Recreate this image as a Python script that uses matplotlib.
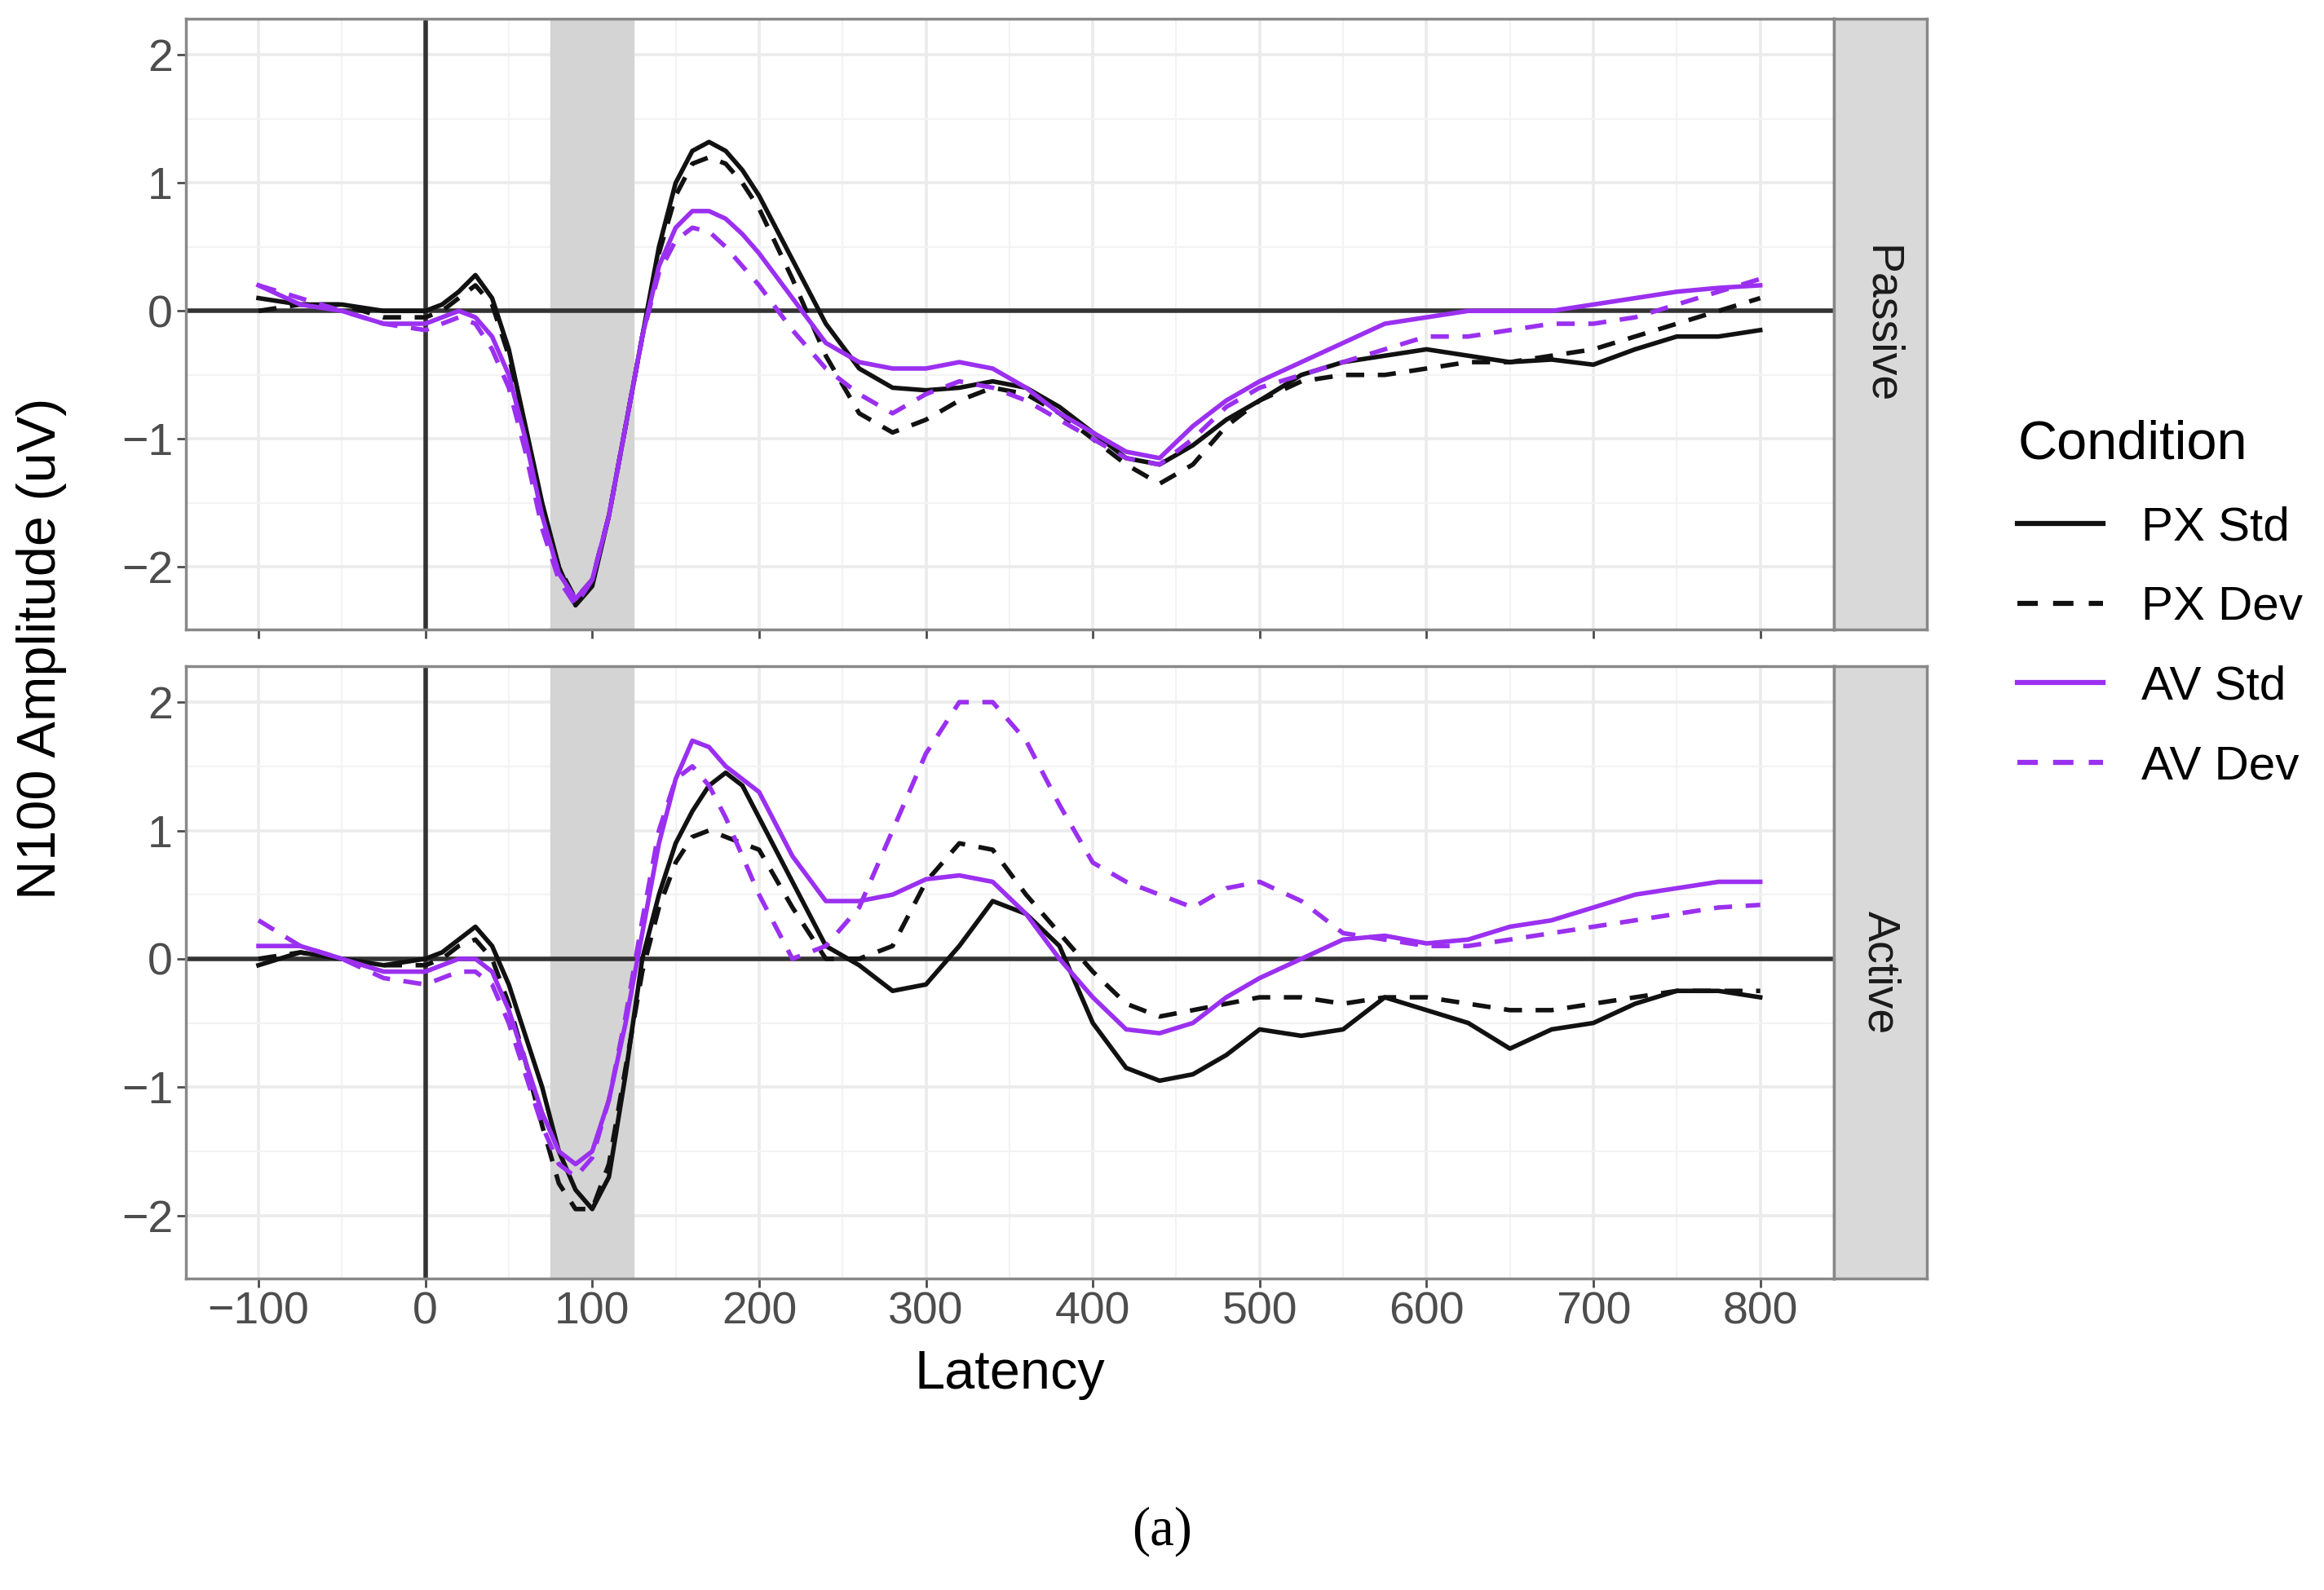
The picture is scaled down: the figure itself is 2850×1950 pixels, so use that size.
import matplotlib.pyplot as plt
import numpy as np
from matplotlib.lines import Line2D

plt.rcParams['font.family'] = ['Liberation Sans', 'DejaVu Sans']

# latency grid (ms)
lat = [-100, -75, -50, -25, 0, 10, 20, 30, 40, 50, 60, 70, 80, 90, 100, 110, 120, 130, 140, 150,
       160, 170, 180, 190, 200, 220, 240, 260, 280, 300, 320, 340, 360, 380, 400, 420, 440, 460,
       480, 500, 525, 550, 575, 600, 625, 650, 675, 700, 725, 750, 775, 800]

# passive condition
pas_px_std = [0.1, 0.05, 0.05, 0.0, 0.0, 0.05, 0.15, 0.28, 0.1, -0.3, -0.9, -1.5, -2.0, -2.3, -2.15, -1.6, -0.9, -0.2, 0.5, 1.0,
              1.25, 1.32, 1.25, 1.1, 0.9, 0.4, -0.1, -0.45, -0.6, -0.62, -0.6, -0.55, -0.6, -0.75, -0.95, -1.15, -1.2, -1.05,
              -0.85, -0.7, -0.5, -0.4, -0.35, -0.3, -0.35, -0.4, -0.38, -0.42, -0.3, -0.2, -0.2, -0.15]
pas_px_dev = [0.0, 0.05, 0.05, -0.05, -0.05, 0.0, 0.1, 0.2, 0.05, -0.35, -0.95, -1.55, -2.0, -2.25, -2.1, -1.6, -0.9, -0.2, 0.45, 0.9,
              1.15, 1.2, 1.15, 1.0, 0.8, 0.25, -0.35, -0.8, -0.95, -0.85, -0.7, -0.6, -0.65, -0.8, -1.0, -1.2, -1.35, -1.2,
              -0.9, -0.7, -0.55, -0.5, -0.5, -0.45, -0.4, -0.4, -0.35, -0.3, -0.2, -0.1, 0.0, 0.1]
pas_av_std = [0.2, 0.05, 0.0, -0.1, -0.1, -0.05, 0.0, -0.05, -0.2, -0.5, -1.0, -1.6, -2.05, -2.25, -2.1, -1.6, -0.9, -0.2, 0.35, 0.65,
              0.78, 0.78, 0.72, 0.6, 0.45, 0.1, -0.25, -0.4, -0.45, -0.45, -0.4, -0.45, -0.6, -0.8, -0.95, -1.1, -1.15, -0.9,
              -0.7, -0.55, -0.4, -0.25, -0.1, -0.05, 0.0, 0.0, 0.0, 0.05, 0.1, 0.15, 0.18, 0.2]
pas_av_dev = [0.2, 0.1, 0.0, -0.1, -0.15, -0.1, -0.05, -0.1, -0.3, -0.6, -1.1, -1.7, -2.1, -2.3, -2.1, -1.6, -0.9, -0.2, 0.3, 0.55,
              0.65, 0.62, 0.5, 0.35, 0.2, -0.15, -0.45, -0.65, -0.8, -0.65, -0.55, -0.6, -0.7, -0.85, -1.0, -1.15, -1.2, -1.0,
              -0.75, -0.6, -0.5, -0.4, -0.3, -0.2, -0.2, -0.15, -0.1, -0.1, -0.05, 0.05, 0.15, 0.25]

# active condition
act_px_std = [-0.05, 0.05, 0.0, -0.05, 0.0, 0.05, 0.15, 0.25, 0.1, -0.2, -0.6, -1.0, -1.5, -1.8, -1.95, -1.7, -0.9, 0.0, 0.5, 0.9,
              1.15, 1.35, 1.45, 1.35, 1.1, 0.6, 0.1, -0.05, -0.25, -0.2, 0.1, 0.45, 0.35, 0.1, -0.5, -0.85, -0.95, -0.9,
              -0.75, -0.55, -0.6, -0.55, -0.3, -0.4, -0.5, -0.7, -0.55, -0.5, -0.35, -0.25, -0.25, -0.3]
act_px_dev = [0.0, 0.05, 0.0, -0.05, -0.05, 0.0, 0.1, 0.15, 0.0, -0.35, -0.8, -1.3, -1.75, -1.95, -1.95, -1.6, -0.85, -0.1, 0.4, 0.75,
              0.95, 1.0, 0.95, 0.9, 0.85, 0.4, 0.0, 0.0, 0.1, 0.6, 0.9, 0.85, 0.5, 0.2, -0.1, -0.35, -0.45, -0.4,
              -0.35, -0.3, -0.3, -0.35, -0.3, -0.3, -0.35, -0.4, -0.4, -0.35, -0.3, -0.25, -0.25, -0.25]
act_av_std = [0.1, 0.1, 0.0, -0.1, -0.1, -0.05, 0.0, 0.0, -0.1, -0.4, -0.8, -1.2, -1.5, -1.6, -1.5, -1.1, -0.5, 0.2, 0.9, 1.4,
              1.7, 1.65, 1.5, 1.4, 1.3, 0.8, 0.45, 0.45, 0.5, 0.62, 0.65, 0.6, 0.35, 0.0, -0.3, -0.55, -0.58, -0.5,
              -0.3, -0.15, 0.0, 0.15, 0.18, 0.12, 0.15, 0.25, 0.3, 0.4, 0.5, 0.55, 0.6, 0.6]
act_av_dev = [0.3, 0.1, 0.0, -0.15, -0.2, -0.15, -0.1, -0.1, -0.2, -0.5, -0.9, -1.3, -1.6, -1.7, -1.55, -1.1, -0.45, 0.3, 1.0, 1.4,
              1.5, 1.35, 1.1, 0.8, 0.5, 0.0, 0.1, 0.4, 1.0, 1.6, 2.0, 2.0, 1.7, 1.2, 0.75, 0.6, 0.5, 0.4,
              0.55, 0.6, 0.45, 0.2, 0.15, 0.1, 0.1, 0.15, 0.2, 0.25, 0.3, 0.35, 0.4, 0.42]

panels = ['Passive', 'Active']
series = {'Passive': [pas_px_std, pas_px_dev, pas_av_std, pas_av_dev],
          'Active': [act_px_std, act_px_dev, act_av_std, act_av_dev]}
labels = ['PX Std', 'PX Dev', 'AV Std', 'AV Dev']
purple = '#9B30F0'
colors = ['#111111', '#111111', purple, purple]
styles = ['-', '--', '-', '--']

fig = plt.figure(figsize=(28.5, 19.5), dpi=100)
L, R, SR = 0.080, 0.789, 0.829
boxes = [(0.604, 0.988), (0.196, 0.581)]
axes = []
for name, (b, t) in zip(panels, boxes):
    ax = fig.add_axes([L, b, R - L, t - b])
    axes.append(ax)
    ax.set_xlim(-143.5, 844)
    ax.set_ylim(-2.49, 2.28)
    ax.set_xticks(range(-100, 801, 100))
    ax.set_xticks(range(-50, 801, 100), minor=True)
    ax.set_yticks([-2, -1, 0, 1, 2])
    ax.set_yticks([-1.5, -0.5, 0.5, 1.5], minor=True)
    ax.grid(which='major', color='#ebebeb', lw=2.6)
    ax.grid(which='minor', color='#f3f3f3', lw=1.5)
    ax.set_axisbelow(True)
    ax.axvspan(75, 125, color='#d4d4d4', zorder=1)
    ax.axhline(0, color='#333333', lw=4, zorder=2)
    ax.axvline(0, color='#333333', lw=4, zorder=2)
    for y, c, s in zip(series[name], colors, styles):
        ax.plot(lat, y, color=c, ls=s, lw=4, dashes=(4, 3) if s == '--' else (None, None), zorder=3)
    for sp in ax.spines.values():
        sp.set_color('#888888')
        sp.set_linewidth(2.5)
    ax.tick_params(labelsize=40, colors='#4d4d4d', length=8, width=2, which='major')
    ax.tick_params(which='minor', length=0)
    for lab in ax.get_xticklabels() + ax.get_yticklabels():
        lab.set_color('#4d4d4d')
    # facet strip
    st = fig.add_axes([R, b, SR - R, t - b])
    st.set_facecolor('#d9d9d9')
    st.set_xticks([])
    st.set_yticks([])
    for sp in st.spines.values():
        sp.set_color('#888888')
        sp.set_linewidth(2.5)
    st.text(0.5, 0.5, name, rotation=-90, ha='center', va='center', fontsize=40,
            color='#1a1a1a', transform=st.transAxes)

axes[0].tick_params(labelbottom=False)
axes[1].set_xlabel('Latency', fontsize=48, labelpad=14)
fig.text(0.018, (0.196 + 0.988) / 2, 'N100 Amplitude (uV)', rotation=90, ha='center',
         va='center', fontsize=48)

handles = [Line2D([], [], color=c, ls=s, lw=4.5, dashes=(4, 3) if s == '--' else (None, None))
           for c, s in zip(colors, styles)]
leg = fig.legend(handles, labels, loc='center left', bbox_to_anchor=(0.86, 0.62),
                 frameon=False, fontsize=42, title='Condition', title_fontsize=48,
                 handlelength=1.8, labelspacing=0.75, alignment='left', borderaxespad=0)

fig.text(0.5, 0.037, '(a)', ha='center', va='center', fontsize=48,
         family=['Liberation Serif', 'DejaVu Serif'])

fig.savefig('out.png', dpi=100)
